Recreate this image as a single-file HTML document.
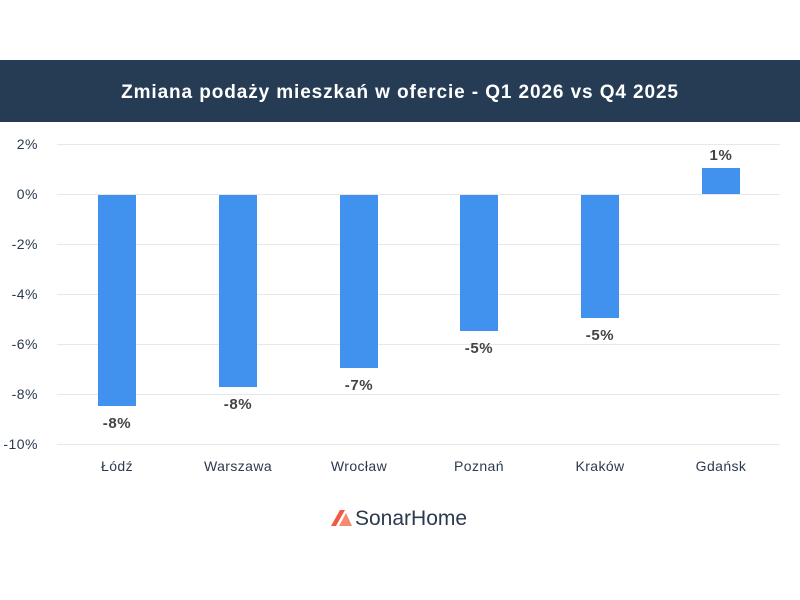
<!DOCTYPE html>
<html><head><meta charset="utf-8"><style>
body{margin:0;background:#fff;}
svg{display:block;font-family:"Liberation Sans",sans-serif;}
</style></head><body>
<svg width="800" height="600" xmlns="http://www.w3.org/2000/svg">
<rect width="800" height="600" fill="#fff"/>
<rect x="0" y="60" width="800" height="62" fill="#263c55"/>
<text x="400" y="98" text-anchor="middle" fill="#fff" font-size="19" font-weight="bold" letter-spacing="0.9">Zmiana podaży mieszkań w ofercie - Q1 2026 vs Q4 2025</text>
<g stroke="#e8e8e8" stroke-width="1">
<line x1="57" x2="780" y1="144.5" y2="144.5"/>
<line x1="57" x2="780" y1="194.5" y2="194.5"/>
<line x1="57" x2="780" y1="244.5" y2="244.5"/>
<line x1="57" x2="780" y1="294.5" y2="294.5"/>
<line x1="57" x2="780" y1="344.5" y2="344.5"/>
<line x1="57" x2="780" y1="394.5" y2="394.5"/>
<line x1="57" x2="780" y1="444.5" y2="444.5"/>
</g>
<g fill="#2b3a4e" font-size="14" text-anchor="end" letter-spacing="0.5">
<text x="38" y="149">2%</text>
<text x="38" y="199">0%</text>
<text x="38" y="249">-2%</text>
<text x="38" y="299">-4%</text>
<text x="38" y="349">-6%</text>
<text x="38" y="399">-8%</text>
<text x="38" y="449">-10%</text>
</g>
<g fill="#4191ee">
<rect x="98" y="195" width="38" height="211"/>
<rect x="219" y="195" width="38" height="192"/>
<rect x="340" y="195" width="38" height="173"/>
<rect x="460" y="195" width="38" height="136"/>
<rect x="581" y="195" width="38" height="123"/>
<rect x="702" y="168" width="38" height="26"/>
</g>
<g fill="#444" font-size="15" font-weight="bold" text-anchor="middle" letter-spacing="0.6">
<text x="117" y="428">-8%</text>
<text x="238" y="409">-8%</text>
<text x="359" y="390">-7%</text>
<text x="479" y="353">-5%</text>
<text x="600" y="340">-5%</text>
<text x="721" y="160">1%</text>
</g>
<g fill="#2b3a4e" font-size="14" text-anchor="middle" letter-spacing="0.4">
<text x="117" y="471">Łódź</text>
<text x="238" y="471">Warszawa</text>
<text x="359" y="471">Wrocław</text>
<text x="479" y="471">Poznań</text>
<text x="600" y="471">Kraków</text>
<text x="721" y="471">Gdańsk</text>
</g>
<polygon points="331,526 340,510 345,510 336,526" fill="#ee5a45"/>
<polygon points="339,526 346,513 352,526" fill="#f48a6f"/>
<text x="355" y="525" fill="#2b3a4e" font-size="21">SonarHome</text>
</svg>
</body></html>
